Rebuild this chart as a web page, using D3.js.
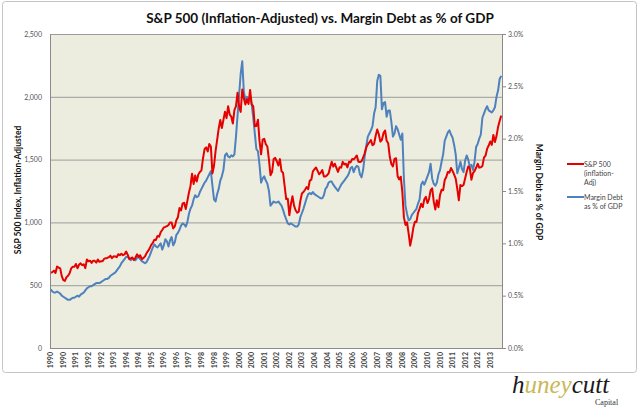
<!DOCTYPE html>
<html><head><meta charset="utf-8">
<script src="https://cdn.jsdelivr.net/npm/d3@7"></script>
<style>
html,body{margin:0;padding:0;background:#fff;}
svg{display:block;font-family:Lato,"Open Sans",sans-serif;}
</style></head>
<body><svg id="chart" width="640" height="414"></svg>
<script>
// ---- DATA (monthly, Jan 1990 - Dec 2013) ----
const startYear = 1990;
const endYear = 2013;
// S&P 500, inflation-adjusted (left axis)
const sp500 = [
602,604,616,597,649,640,634,572,540,534,564,575,
595,634,647,646,669,635,663,674,660,666,636,705,
690,695,678,695,694,680,705,686,691,691,710,715,
717,723,735,715,730,729,723,747,738,750,739,745,
768,743,707,714,721,700,721,746,725,738,707,715,
729,754,773,793,821,837,862,860,892,886,921,940,
960,964,970,980,1000,1000,952,968,1017,1041,1115,1095,
1151,1156,1106,1169,1236,1288,1388,1306,1374,1325,1382,1402,
1414,1511,1584,1597,1565,1625,1604,1390,1451,1567,1657,1748,
1815,1752,1816,1881,1830,1925,1859,1843,1787,1894,1926,2033,
1924,1880,2058,1988,1939,1980,1943,2055,1939,1925,1766,1768,
1818,1649,1542,1659,1666,1622,1604,1500,1376,1400,1504,1514,
1487,1453,1504,1409,1394,1290,1186,1189,1057,1145,1209,1133,
1097,1077,1085,1171,1230,1242,1260,1281,1264,1332,1340,1406,
1423,1437,1410,1383,1396,1417,1365,1365,1374,1390,1440,1483,
1444,1467,1434,1402,1439,1436,1482,1462,1467,1438,1483,1478,
1504,1502,1516,1533,1483,1481,1486,1515,1550,1597,1621,1638,
1655,1614,1625,1690,1739,1702,1643,1658,1711,1732,1650,1630,
1522,1465,1446,1506,1511,1367,1342,1364,1241,1040,980,1001,
912,815,877,957,1006,1004,1076,1110,1148,1122,1184,1203,
1154,1186,1255,1272,1167,1103,1177,1120,1217,1260,1256,1337,
1361,1402,1396,1433,1410,1381,1349,1269,1176,1298,1289,1298,
1349,1403,1445,1431,1340,1392,1408,1435,1467,1436,1439,1448,
1516,1531,1585,1612,1644,1617,1696,1640,1687,1760,1808,1850
];
// Margin debt as % of GDP (right axis)
const marginDebt = [
0.56,0.54,0.53,0.53,0.54,0.53,0.52,0.50,0.49,0.48,0.47,0.46,
0.46,0.47,0.48,0.48,0.49,0.50,0.49,0.51,0.52,0.53,0.55,0.57,
0.58,0.59,0.59,0.60,0.61,0.62,0.62,0.62,0.63,0.64,0.65,0.66,
0.66,0.67,0.69,0.70,0.71,0.72,0.74,0.76,0.78,0.81,0.83,0.85,
0.87,0.87,0.86,0.84,0.85,0.85,0.84,0.86,0.87,0.85,0.83,0.82,
0.81,0.82,0.85,0.88,0.92,0.96,0.99,0.97,0.96,0.98,1.00,0.94,
0.98,1.04,1.02,0.97,1.03,1.06,0.98,1.01,1.08,1.10,1.13,1.17,
1.19,1.18,1.16,1.20,1.28,1.33,1.36,1.42,1.46,1.44,1.45,1.49,
1.52,1.55,1.58,1.60,1.63,1.66,1.69,1.55,1.42,1.40,1.47,1.52,
1.60,1.64,1.70,1.84,1.86,1.83,1.82,1.84,1.83,1.85,2.02,2.22,
2.42,2.62,2.74,2.45,2.37,2.40,2.38,2.39,2.33,2.20,2.05,1.90,
1.88,1.75,1.58,1.62,1.64,1.60,1.57,1.50,1.36,1.38,1.40,1.39,
1.39,1.40,1.38,1.36,1.32,1.27,1.23,1.19,1.18,1.19,1.18,1.17,
1.16,1.16,1.18,1.25,1.29,1.33,1.38,1.43,1.47,1.48,1.47,1.49,
1.47,1.46,1.45,1.44,1.43,1.43,1.46,1.52,1.54,1.58,1.59,1.59,
1.56,1.54,1.52,1.50,1.53,1.56,1.58,1.60,1.62,1.64,1.67,1.72,
1.73,1.68,1.72,1.74,1.73,1.66,1.63,1.70,1.83,1.93,2.02,2.05,
2.08,2.12,2.24,2.30,2.55,2.61,2.60,2.28,2.34,2.35,2.21,2.27,
2.27,2.16,2.02,2.05,2.12,2.09,2.04,1.99,2.05,1.62,1.36,1.28,
1.22,1.23,1.27,1.29,1.31,1.33,1.38,1.42,1.56,1.59,1.56,1.60,
1.64,1.68,1.76,1.62,1.57,1.55,1.58,1.66,1.70,1.78,1.85,1.98,
2.02,2.06,2.08,2.04,2.01,1.94,1.85,1.67,1.72,1.78,1.71,1.68,
1.79,1.84,1.80,1.73,1.75,1.70,1.78,1.92,1.95,2.00,2.04,2.20,
2.24,2.28,2.31,2.27,2.26,2.25,2.27,2.30,2.40,2.46,2.57,2.60
];
// category-axis labels (one every 8 months)
const xTickLabels = ["1990","1990","1991","1992","1992","1993","1994","1994","1995","1996","1996","1997",
"1998","1998","1999","2000","2000","2001","2002","2002","2003","2004","2004","2005",
"2006","2006","2007","2008","2008","2009","2010","2010","2011","2012","2012","2013"];
const leftTicks = [0,500,1000,1500,2000,2500];
const rightTicks = [0,0.5,1.0,1.5,2.0,2.5,3.0];
const titleText = "S&P 500 (Inflation-Adjusted) vs. Margin Debt as % of GDP";
const leftTitle = "S&P 500 Index, Inflation-Adjusted";
const rightTitle = "Margin Debt as % of GDP";
const legendItems = [
  {lines:["S&P 500","(inflation-","Adj)"], color:"#e60000"},
  {lines:["Margin Debt","as % of GDP"], color:"#4f81bd"}
];

// ---- LAYOUT ----
const svg = d3.select("#chart");
const L=50, R=502, T=34, B=348;
const months = d3.range((endYear-startYear+1)*12);

svg.append("rect").attr("x",2.5).attr("y",1.5).attr("width",634).attr("height",371)
  .attr("rx",3).attr("fill","#fff").attr("stroke","#c4c4c4");

const x = d3.scaleBand().domain(months).range([L,R]);
const cx = i => x(i) + x.bandwidth()/2;
const yL = d3.scaleLinear().domain([0,2500]).range([B,T]);
const yR = d3.scaleLinear().domain([0,3.0]).range([B,T]);

svg.append("rect").attr("x",L).attr("y",T).attr("width",R-L).attr("height",B-T).attr("fill","#ecedde");

// gridlines
svg.append("g").selectAll("line").data(leftTicks.filter(d=>d>0)).join("line")
  .attr("x1",L).attr("x2",R).attr("y1",d=>yL(d)+0.5).attr("y2",d=>yL(d)+0.5)
  .attr("stroke","#9c9c9c").attr("stroke-width",1);

// axes
const gl = svg.append("g").attr("transform",`translate(${L},0)`)
  .call(d3.axisLeft(yL).tickValues(leftTicks).tickFormat(d3.format(",")).tickSize(0).tickPadding(8));
gl.select(".domain").attr("stroke","#8a8a8a");
gl.selectAll("text").attr("font-size",7).attr("fill","#555").attr("font-family","Lato,sans-serif");

const gr = svg.append("g").attr("transform",`translate(${R},0)`)
  .call(d3.axisRight(yR).tickValues(rightTicks).tickFormat(d=>d.toFixed(1)+"%").tickSize(4).tickSizeOuter(0).tickPadding(2));
gr.select(".domain").attr("stroke","#8a8a8a");
gr.selectAll("line").attr("stroke","#8a8a8a");
gr.selectAll("text").attr("font-size",7).attr("fill","#555").attr("font-family","Lato,sans-serif");

svg.append("line").attr("x1",L).attr("x2",R).attr("y1",B+0.5).attr("y2",B+0.5).attr("stroke","#8a8a8a");

// x labels (every 8th month)
const tickIdx = xTickLabels.map((d,k)=>k*8);
svg.append("g").selectAll("text").data(tickIdx).join("text")
  .attr("transform",i=>`translate(${cx(i)+2.5},352) rotate(-90)`)
  .attr("text-anchor","end").attr("font-size",7).attr("font-weight","bold").attr("fill","#444")
  .text((i,k)=>xTickLabels[k]);

// lines
const lineL = d3.line().x((d,i)=>cx(i)).y(d=>yL(d));
const lineR = d3.line().x((d,i)=>cx(i)).y(d=>yR(d));
svg.append("path").datum(marginDebt).attr("d",lineR).attr("fill","none")
  .attr("stroke","#4f81bd").attr("stroke-width",2).attr("stroke-linejoin","round");
svg.append("path").datum(sp500).attr("d",lineL).attr("fill","none")
  .attr("stroke","#e60000").attr("stroke-width",2).attr("stroke-linejoin","round");

// titles
svg.append("text").attr("x",320).attr("y",23).attr("text-anchor","middle")
  .attr("font-size",13.5).attr("font-weight","bold").attr("fill","#111").text(titleText);
svg.append("text").attr("transform","translate(21,190) rotate(-90)").attr("text-anchor","middle")
  .attr("font-size",8.5).attr("font-weight","bold").attr("fill","#111").text(leftTitle);
svg.append("text").attr("transform","translate(536,192) rotate(90)").attr("text-anchor","middle")
  .attr("font-size",8.5).attr("font-weight","bold").attr("fill","#111").text(rightTitle);

// legend
const legY = [164,197];
legendItems.forEach((it,k)=>{
  const g = svg.append("g");
  g.append("line").attr("x1",567).attr("x2",584).attr("y1",legY[k]).attr("y2",legY[k])
    .attr("stroke",it.color).attr("stroke-width",2);
  it.lines.forEach((t,j)=>{
    g.append("text").attr("x",584).attr("y",legY[k]+2.5+j*9.2).attr("font-size",7).attr("fill","#444").text(t);
  });
});

// logo
const logo = svg.append("text").attr("x",512).attr("y",393)
  .attr("font-family","'Liberation Serif','DejaVu Serif',serif").attr("font-style","italic").attr("font-size",25);
logo.append("tspan").attr("fill","#1a1a1a").text("h");
logo.append("tspan").attr("fill","#c9b85a").text("uney");
logo.append("tspan").attr("fill","#1a1a1a").text("cutt");
svg.append("text").attr("x",595).attr("y",405).attr("font-family","'Liberation Serif',serif")
  .attr("font-size",8).attr("fill","#333").text("Capital");
</script></body></html>
